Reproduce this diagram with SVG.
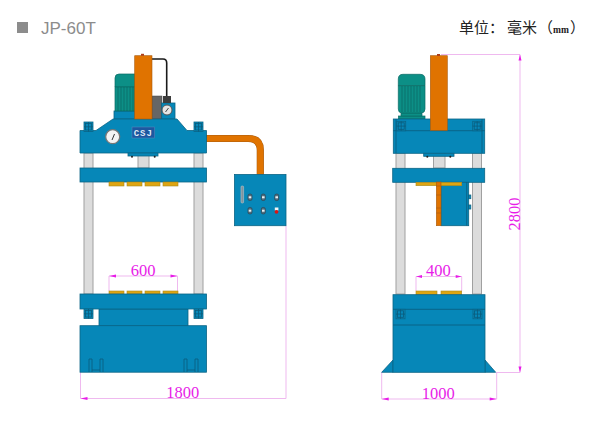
<svg xmlns="http://www.w3.org/2000/svg" xmlns:xlink="http://www.w3.org/1999/xlink" width="600" height="433" viewBox="0 0 600 433">
<style>
.b{fill:#0687b8;stroke:#0b6485;stroke-width:.8}
.c{fill:#dcdcdc;stroke:#a0a0a0;stroke-width:1}
.o{fill:#e07300;stroke:#a85c10;stroke-width:.6}
.y{fill:#dfa512;stroke:#a88a20;stroke-width:.6}
.t{fill:#0c8f86;stroke:#0a6a64;stroke-width:.7}
.l{fill:none;stroke:#0a5c7c;stroke-width:.8}
.d{fill:none;stroke:#efb9ef;stroke-width:1}
.a{fill:#e81ce8}
.n{font-family:"Liberation Serif",serif;font-size:16.500px;fill:#e81ce8;text-anchor:middle}
.s{fill:#4f6f80;stroke:#2f4450;stroke-width:.7}
</style>
<defs>
<g id="bolt"><rect width="9" height="9.500" class="b"/><path d="M0 4.800H9M4.500 0V9.500" class="l"/><rect x="1.500" y="1.500" width="6" height="6.500" class="l"/></g>
<g id="sw"><rect x="-2" y="-3.200" width="4" height="6.400" rx="1.600" class="s"/><rect x="-1.300" y="-1" width="2.600" height="2" fill="#e8eef0"/></g>
<g id="foot"><path d="M0 13V0H3V13M11 13V0H14V13M3 11H11" class="l"/></g>
</defs>
<g id="header">
<rect x="17" y="22" width="11" height="11" fill="#8c8c8c"/>
<text x="41" y="34" font-family="Liberation Sans,sans-serif" font-size="17" fill="#8c8c8c">JP-60T</text>
<text x="459" y="32.500" font-family="'Liberation Serif','Noto Sans CJK SC',serif" font-size="15" fill="#222">单位：<tspan x="507">毫米</tspan><tspan x="538">（</tspan><tspan x="553" font-size="9.500" font-weight="bold">mm</tspan><tspan x="570">）</tspan></text>
</g>
<g id="connectors">
<path d="M206 138.500H248Q260.300 138.500 260.300 150V174.500" fill="none" stroke="#a85c10" stroke-width="7.200"/>
<path d="M206 138.500H248Q260.300 138.500 260.300 150V174.500" fill="none" stroke="#e07300" stroke-width="6.200"/>
<path d="M152 59H163Q166.700 59 166.700 63V96" fill="none" stroke="#1a1a1a" stroke-width="1.600"/>
<path class="d" d="M109 291V276H177.500V291M80.500 372V398.500H286V226M416 291V276.500H461.700V291M441 54.500H520V372.500H497M381.700 372V399H496.700V372"/>
<path class="a" d="M109 276l7-1.500v3zM177.500 276l-7-1.500v3zM416 276.500l6-1.500v3zM461.700 276.500l-6-1.500v3zM80.500 398.500l7-1.500v3zM520 54.500l-1.500 6h3zM520 372.500l-1.500-6h3zM381.700 399l7-1.500v3zM496.700 399l-7-1.500v3z"/>
</g>
<g id="press-front">
<rect class="c" x="84" y="153" width="9" height="141"/>
<rect class="c" x="194" y="153" width="9" height="141"/>
<rect class="c" x="138" y="153" width="11" height="15"/>
<rect class="b" x="114" y="111" width="21" height="8"/>
<path class="t" d="M115 87V78Q115 74 119 74H135V87Z"/>
<rect class="t" x="115" y="87" width="20" height="24"/>
<path d="M118 87V111M121 87V111M124 87V111M127 87V111M130 87V111M133 87V111" stroke="#0a5f5a" stroke-width=".6"/>
<rect x="152" y="96" width="10" height="23" fill="#666" stroke="#444" stroke-width=".5"/>
<rect class="b" x="161.700" y="103" width="13.300" height="16"/>
<rect x="163" y="96" width="8" height="7" fill="#3c3c3c"/>
<circle cx="167" cy="110" r="5" fill="#e4e4e4" stroke="#555"/>
<path d="M165.500 112L168.500 108" stroke="#333" stroke-width=".9"/>
<path class="b" d="M80 130.500H96L113 119H177L187 130.500H206.500V153H80Z"/>
<use xlink:href="#bolt" x="84" y="122"/>
<use xlink:href="#bolt" x="194" y="122"/>
<rect class="o" x="134.700" y="55.700" width="17.300" height="63.300"/>
<rect x="141" y="53.800" width="3" height="2" fill="#b0401a"/>
<circle cx="112.700" cy="136.700" r="7" fill="#f4f4f4" stroke="#777" stroke-width="1.200"/>
<path d="M112 140L114.500 134" stroke="#333" stroke-width="1"/>
<rect x="132" y="127" width="22.700" height="11" fill="#1d58a0" stroke="#5d8cc0" stroke-width=".5"/>
<text x="143.300" y="136" font-family="Liberation Mono,monospace" font-weight="bold" font-size="9" letter-spacing="1" fill="#dfe8f4" text-anchor="middle">CSJ</text>
<rect class="b" x="128" y="153" width="30" height="3"/>
<circle cx="132" cy="156.800" r="1" fill="#222"/>
<circle cx="154.700" cy="156.800" r="1" fill="#222"/>
<rect class="b" x="80" y="168" width="126.500" height="14"/>
<rect class="y" x="109" y="182" width="15" height="4"/>
<rect class="y" x="127" y="182" width="15" height="4"/>
<rect class="y" x="145" y="182" width="15" height="4"/>
<rect class="y" x="163" y="182" width="15" height="4"/>
<rect class="y" x="109" y="291" width="15" height="3"/>
<rect class="y" x="127" y="291" width="15" height="3"/>
<rect class="y" x="145" y="291" width="15" height="3"/>
<rect class="y" x="163" y="291" width="15" height="3"/>
<rect class="b" x="99" y="309" width="89" height="17"/>
<rect class="b" x="80" y="294" width="126.500" height="15"/>
<use xlink:href="#bolt" x="84" y="309"/>
<use xlink:href="#bolt" x="194" y="309"/>
<rect class="b" x="80" y="325.700" width="126.500" height="46.500"/>
<use xlink:href="#foot" x="89" y="359"/>
<use xlink:href="#foot" x="184" y="359"/>
</g>
<g id="control-box">
<rect class="b" x="234.500" y="174.500" width="51.500" height="51.200"/>
<rect x="241" y="186" width="2.600" height="17" rx="1" fill="#7f939e" stroke="#b8c4ca" stroke-width=".6"/>
<use xlink:href="#sw" x="250" y="197.300"/>
<use xlink:href="#sw" x="263.300" y="197.300"/>
<use xlink:href="#sw" x="276.700" y="197.300"/>
<use xlink:href="#sw" x="250" y="210.700"/>
<use xlink:href="#sw" x="263.300" y="210.700"/>
<rect x="274.800" y="207.500" width="3.600" height="3" fill="#f4f4f4"/>
<circle cx="276.500" cy="211.800" r="1.900" fill="#d81515"/>
</g>
<g id="press-side">
<rect class="c" x="396" y="153" width="9" height="141"/>
<rect class="c" x="472.500" y="153" width="9" height="141"/>
<rect class="c" x="433.500" y="153" width="11.500" height="15"/>
<rect class="t" x="398.500" y="116" width="26.500" height="3"/>
<rect class="t" x="401" y="113" width="21" height="3"/>
<path class="t" d="M398.300 85.700V79Q398.300 74.300 403 74.300H420Q425 74.300 425 79V85.700Z"/>
<path class="t" d="M398.300 85.700H425V109Q425 113 421 113H402Q398.300 113 398.300 109Z"/>
<path d="M402 86V112M405 86V112M408 86V112M411 86V112M414 86V112M417 86V112M420 86V112" stroke="#0a5f5a" stroke-width=".6"/>
<rect class="b" x="393.300" y="119" width="91.400" height="34.300"/>
<path class="l" d="M393.300 130.700H484.700M396 119V153M482 119V153"/>
<use xlink:href="#bolt" x="396.700" y="121.300"/>
<use xlink:href="#bolt" x="472.700" y="121.300"/>
<rect class="o" x="430.300" y="55.700" width="17" height="74.700"/>
<rect x="437" y="54" width="3" height="2" fill="#b0401a"/>
<rect class="b" x="423.700" y="153.300" width="30.300" height="3"/>
<circle cx="427.300" cy="156.800" r="1" fill="#222"/>
<circle cx="450.300" cy="156.800" r="1" fill="#222"/>
<rect class="b" x="392.700" y="168.300" width="92" height="14"/>
<rect class="b" x="441" y="182.300" width="27.700" height="43.400"/>
<path class="l" d="M466.700 182.300V225.700"/>
<rect class="b" x="468.500" y="195" width="2.300" height="3.700"/>
<rect class="b" x="468.500" y="205" width="2.300" height="4"/>
<rect class="o" x="436.300" y="182.300" width="4.700" height="43.400"/>
<path d="M436.300 195H441M436.300 208H441M436.300 213H441" stroke="#a85c10" stroke-width=".6"/>
<rect class="y" x="416" y="182.300" width="45.700" height="3.400"/>
<rect class="o" x="436.300" y="182" width="4.700" height="4"/>
<rect class="y" x="416" y="291" width="21" height="3.700"/>
<rect class="y" x="441" y="291" width="20.700" height="3.700"/>
<path class="b" d="M381.700 372.300L393 360V372.300ZM485 360L495.700 372.300H485Z"/>
<rect class="b" x="393" y="294.700" width="92" height="77.600"/>
<path class="l" d="M393 309.300H485M393 325H485"/>
<use xlink:href="#bolt" x="396" y="309.300"/>
<use xlink:href="#bolt" x="473" y="309.300"/>
</g>
<g id="dimension-labels">
<text class="n" x="143" y="276">600</text>
<text class="n" x="182.700" y="398">1800</text>
<text class="n" x="438.300" y="276">400</text>
<text class="n" x="438.300" y="399.300">1000</text>
<text class="n" transform="translate(520 214) rotate(-90)">2800</text>
</g>
</svg>
